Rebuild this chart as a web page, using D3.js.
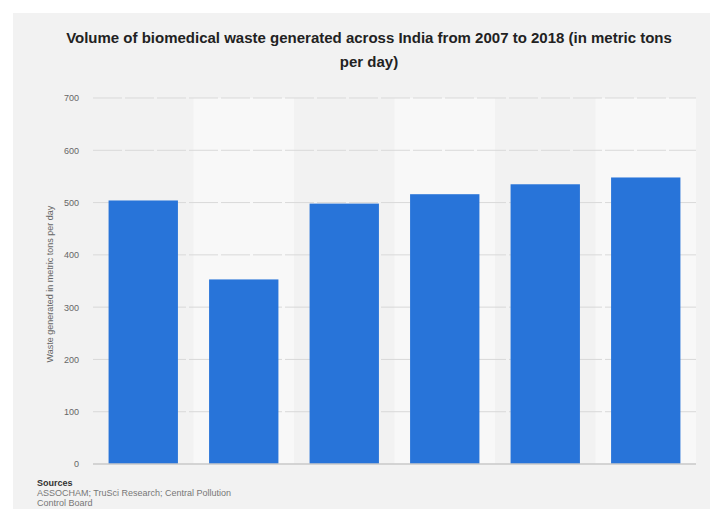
<!DOCTYPE html>
<html>
<head>
<meta charset="utf-8">
<script src="https://cdn.jsdelivr.net/npm/d3@7"></script>
<style>
  html, body { margin: 0; padding: 0; background: #fff; }
  svg { display: block; font-family: "Liberation Sans", Arial, sans-serif; }
</style>
</head>
<body>
<svg id="chart" width="710" height="509"></svg>
<script>
const years = ["2007", "2008", "2010", "2012", "2015", "2018"];
const values = [504, 353, 498, 516, 535, 548];
const yTicks = [0, 100, 200, 300, 400, 500, 600, 700];
const titleLines = ["Volume of biomedical waste generated across India from 2007 to 2018 (in metric tons", "per day)"];
const yAxisTitle = "Waste generated in metric tons per day";
const sourceLines = ["Sources", "ASSOCHAM; TruSci Research; Central Pollution", "Control Board"];

const svg = d3.select("#chart");
const W = 710, H = 509;
const plot = { left: 93, right: 696, top: 98, bottom: 464 };

// panel
svg.append("rect").attr("x", 13).attr("y", 13).attr("width", W - 13).attr("height", H - 13).attr("fill", "#f2f2f2");

const x = d3.scaleBand().domain(years).range([plot.left, plot.right]).paddingInner(0.31).paddingOuter(0.155);
const xb = d3.scaleBand().domain(years).range([plot.left, plot.right]).padding(0);
const y = d3.scaleLinear().domain([0, 700]).range([plot.bottom, plot.top]);

// alternating column backgrounds
svg.append("g").selectAll("rect").data(years.filter((d, i) => i % 2 === 1)).join("rect")
  .attr("x", d => xb(d)).attr("y", plot.top).attr("width", xb.bandwidth()).attr("height", plot.bottom - plot.top)
  .attr("fill", "#f8f8f8");

// grid
svg.append("g").selectAll("line").data(yTicks.filter(d => d > 0)).join("line")
  .attr("x1", plot.left).attr("x2", plot.right)
  .attr("y1", d => y(d)).attr("y2", d => y(d))
  .attr("stroke", "#d9d9d9").attr("stroke-width", 1).attr("stroke-dasharray", "29,3");

// y axis labels
const yAxis = d3.axisLeft(y).tickValues(yTicks).tickSize(0).tickPadding(0).tickFormat(d3.format("d"));
const ga = svg.append("g").attr("transform", `translate(${plot.left - 14},0)`).call(yAxis);
ga.select(".domain").remove();
ga.selectAll("text").attr("fill", "#666").attr("font-size", 9).attr("font-family", "Liberation Sans, Arial, sans-serif");

// bars
svg.append("g").selectAll("rect").data(years).join("rect")
  .attr("x", d => x(d)).attr("width", x.bandwidth())
  .attr("y", (d, i) => y(values[i])).attr("height", (d, i) => y(0) - y(values[i]))
  .attr("fill", "#2874d9");

// baseline
svg.append("line").attr("x1", plot.left).attr("x2", plot.right).attr("y1", y(0)).attr("y2", y(0))
  .attr("stroke", "#c8c8c8").attr("stroke-width", 1.5);

// y axis title
svg.append("text").attr("transform", `translate(${51},${(plot.top + plot.bottom) / 2 + 3}) rotate(-90)`)
  .attr("text-anchor", "middle").attr("dominant-baseline", "middle")
  .attr("font-size", 9).attr("fill", "#666").text(yAxisTitle);

// title
svg.append("g").selectAll("text").data(titleLines).join("text")
  .attr("x", 369).attr("y", (d, i) => 43 + i * 24)
  .attr("text-anchor", "middle").attr("font-size", 15).attr("font-weight", "bold").attr("fill", "#222")
  .text(d => d);

// source
svg.append("g").selectAll("text").data(sourceLines).join("text")
  .attr("x", 37).attr("y", (d, i) => 485.5 + i * 10)
  .attr("font-size", 9).attr("font-weight", (d, i) => i === 0 ? "bold" : "normal")
  .attr("fill", (d, i) => i === 0 ? "#333" : "#777")
  .text(d => d);
</script>
</body>
</html>
